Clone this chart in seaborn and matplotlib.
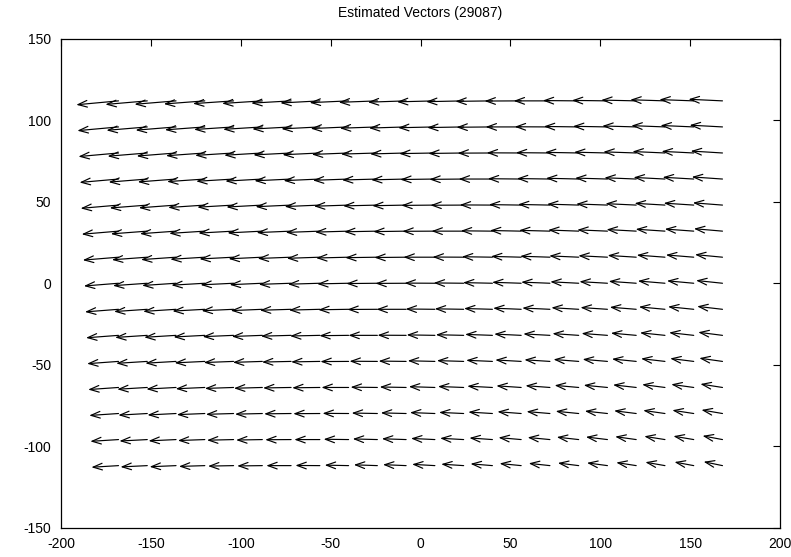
import numpy as np
import matplotlib
matplotlib.use("Agg")
import matplotlib.pyplot as plt
import seaborn as sns

# grid of vector tails
x_tails = [-168, -152, -136, -120, -104, -88, -72, -56, -40, -24, -8,
           8, 24, 40, 56, 72, 88, 104, 120, 136, 152, 168]
y_tails = [112, 96, 80, 64, 48, 32, 16, 0, -16, -32, -48, -64, -80, -96, -112]

# horizontal components (one row per y_tails entry)
u_rows = [
    [-23.5, -23.3, -23.1, -22.8, -22.6, -22.4, -22.2, -22.0, -21.7, -21.5, -21.3, -21.1, -20.9, -20.6, -20.4, -20.2, -20.0, -19.8, -19.5, -19.3, -19.1, -18.9],
    [-22.9, -22.7, -22.5, -22.2, -22.0, -21.8, -21.6, -21.4, -21.1, -20.9, -20.7, -20.5, -20.3, -20.0, -19.8, -19.6, -19.4, -19.2, -18.9, -18.7, -18.5, -18.3],
    [-22.3, -22.1, -21.9, -21.6, -21.4, -21.2, -21.0, -20.8, -20.5, -20.3, -20.1, -19.9, -19.7, -19.4, -19.2, -19.0, -18.8, -18.6, -18.3, -18.1, -17.9, -17.7],
    [-21.7, -21.5, -21.3, -21.0, -20.8, -20.6, -20.4, -20.2, -19.9, -19.7, -19.5, -19.3, -19.1, -18.8, -18.6, -18.4, -18.2, -18.0, -17.7, -17.5, -17.3, -17.1],
    [-21.1, -20.9, -20.7, -20.4, -20.2, -20.0, -19.8, -19.6, -19.3, -19.1, -18.9, -18.7, -18.5, -18.2, -18.0, -17.8, -17.6, -17.4, -17.1, -16.9, -16.7, -16.5],
    [-20.5, -20.3, -20.1, -19.8, -19.6, -19.4, -19.2, -19.0, -18.7, -18.5, -18.3, -18.1, -17.9, -17.6, -17.4, -17.2, -17.0, -16.8, -16.5, -16.3, -16.1, -15.9],
    [-19.9, -19.7, -19.5, -19.2, -19.0, -18.8, -18.6, -18.4, -18.1, -17.9, -17.7, -17.5, -17.3, -17.0, -16.8, -16.6, -16.4, -16.2, -15.9, -15.7, -15.5, -15.3],
    [-19.3, -19.1, -18.9, -18.6, -18.4, -18.2, -18.0, -17.8, -17.5, -17.3, -17.1, -16.9, -16.7, -16.4, -16.2, -16.0, -15.8, -15.6, -15.3, -15.1, -14.9, -14.7],
    [-18.7, -18.5, -18.3, -18.0, -17.8, -17.6, -17.4, -17.2, -16.9, -16.7, -16.5, -16.3, -16.1, -15.8, -15.6, -15.4, -15.2, -15.0, -14.7, -14.5, -14.3, -14.1],
    [-18.1, -17.9, -17.7, -17.4, -17.2, -17.0, -16.8, -16.6, -16.3, -16.1, -15.9, -15.7, -15.5, -15.2, -15.0, -14.8, -14.6, -14.4, -14.1, -13.9, -13.7, -13.5],
    [-17.5, -17.3, -17.1, -16.8, -16.6, -16.4, -16.2, -16.0, -15.7, -15.5, -15.3, -15.1, -14.9, -14.6, -14.4, -14.2, -14.0, -13.8, -13.5, -13.3, -13.1, -12.9],
    [-16.9, -16.7, -16.5, -16.2, -16.0, -15.8, -15.6, -15.4, -15.1, -14.9, -14.7, -14.5, -14.3, -14.0, -13.8, -13.6, -13.4, -13.2, -12.9, -12.7, -12.5, -12.3],
    [-16.3, -16.1, -15.9, -15.6, -15.4, -15.2, -15.0, -14.8, -14.5, -14.3, -14.1, -13.9, -13.7, -13.4, -13.2, -13.0, -12.8, -12.6, -12.3, -12.1, -11.9, -11.7],
    [-15.7, -15.5, -15.3, -15.0, -14.8, -14.6, -14.4, -14.2, -13.9, -13.7, -13.5, -13.3, -13.1, -12.8, -12.6, -12.4, -12.2, -12.0, -11.7, -11.5, -11.3, -11.1],
    [-15.1, -14.9, -14.7, -14.4, -14.2, -14.0, -13.8, -13.6, -13.3, -13.1, -12.9, -12.7, -12.5, -12.2, -12.0, -11.8, -11.6, -11.4, -11.1, -10.9, -10.7, -10.5],
]

# vertical components
v_rows = [
    [-2.4, -2.2, -2.1, -1.9, -1.7, -1.6, -1.4, -1.3, -1.1, -0.9, -0.8, -0.6, -0.5, -0.3, -0.1, 0.0, 0.2, 0.3, 0.5, 0.7, 0.8, 1.0],
    [-2.3, -2.1, -2.0, -1.8, -1.6, -1.5, -1.3, -1.2, -1.0, -0.8, -0.7, -0.5, -0.4, -0.2, 0.0, 0.1, 0.3, 0.4, 0.6, 0.8, 0.9, 1.1],
    [-2.2, -2.0, -1.9, -1.7, -1.5, -1.4, -1.2, -1.1, -0.9, -0.7, -0.6, -0.4, -0.3, -0.1, 0.1, 0.2, 0.4, 0.5, 0.7, 0.9, 1.0, 1.2],
    [-2.1, -1.9, -1.8, -1.6, -1.4, -1.3, -1.1, -1.0, -0.8, -0.6, -0.5, -0.3, -0.2, 0.0, 0.2, 0.3, 0.5, 0.6, 0.8, 1.0, 1.1, 1.3],
    [-2.0, -1.8, -1.7, -1.5, -1.3, -1.2, -1.0, -0.9, -0.7, -0.5, -0.4, -0.2, -0.1, 0.1, 0.3, 0.4, 0.6, 0.7, 0.9, 1.1, 1.2, 1.4],
    [-1.9, -1.7, -1.6, -1.4, -1.2, -1.1, -0.9, -0.8, -0.6, -0.4, -0.3, -0.1, 0.0, 0.2, 0.4, 0.5, 0.7, 0.8, 1.0, 1.2, 1.3, 1.5],
    [-1.8, -1.6, -1.5, -1.3, -1.1, -1.0, -0.8, -0.7, -0.5, -0.3, -0.2, 0.0, 0.1, 0.3, 0.5, 0.6, 0.8, 0.9, 1.1, 1.3, 1.4, 1.6],
    [-1.7, -1.5, -1.4, -1.2, -1.0, -0.9, -0.7, -0.6, -0.4, -0.2, -0.1, 0.1, 0.2, 0.4, 0.6, 0.7, 0.9, 1.0, 1.2, 1.4, 1.5, 1.7],
    [-1.6, -1.4, -1.3, -1.1, -0.9, -0.8, -0.6, -0.5, -0.3, -0.1, 0.0, 0.2, 0.3, 0.5, 0.7, 0.8, 1.0, 1.1, 1.3, 1.5, 1.6, 1.8],
    [-1.5, -1.3, -1.2, -1.0, -0.8, -0.7, -0.5, -0.4, -0.2, 0.0, 0.1, 0.3, 0.4, 0.6, 0.8, 0.9, 1.1, 1.2, 1.4, 1.6, 1.7, 1.9],
    [-1.4, -1.2, -1.1, -0.9, -0.7, -0.6, -0.4, -0.3, -0.1, 0.1, 0.2, 0.4, 0.5, 0.7, 0.9, 1.0, 1.2, 1.3, 1.5, 1.7, 1.8, 2.0],
    [-1.3, -1.1, -1.0, -0.8, -0.6, -0.5, -0.3, -0.2, 0.0, 0.2, 0.3, 0.5, 0.6, 0.8, 1.0, 1.1, 1.3, 1.4, 1.6, 1.8, 1.9, 2.1],
    [-1.2, -1.0, -0.9, -0.7, -0.5, -0.4, -0.2, -0.1, 0.1, 0.3, 0.4, 0.6, 0.7, 0.9, 1.1, 1.2, 1.4, 1.5, 1.7, 1.9, 2.0, 2.2],
    [-1.1, -0.9, -0.8, -0.6, -0.4, -0.3, -0.1, 0.0, 0.2, 0.4, 0.5, 0.7, 0.8, 1.0, 1.2, 1.3, 1.5, 1.6, 1.8, 2.0, 2.1, 2.3],
    [-1.0, -0.8, -0.7, -0.5, -0.3, -0.2, 0.0, 0.1, 0.3, 0.5, 0.6, 0.8, 0.9, 1.1, 1.3, 1.4, 1.6, 1.7, 1.9, 2.1, 2.2, 2.4],
]

x_ticks = [-200, -150, -100, -50, 0, 50, 100, 150, 200]
y_ticks = [-150, -100, -50, 0, 50, 100, 150]
title = "Estimated Vectors (29087)"

sns.set_theme(style="white")
plt.rcParams["font.family"] = ["Liberation Sans", "DejaVu Sans"]
plt.rcParams["axes.unicode_minus"] = False

fig = plt.figure(figsize=(7.91, 5.57), dpi=100)
ax = fig.add_axes([61 / 791, 29.5 / 557, 719 / 791, 488.5 / 557])

for j, y0 in enumerate(y_tails):
    for i, x0 in enumerate(x_tails):
        ax.annotate("", xy=(x0 + u_rows[j][i], y0 + v_rows[j][i]), xytext=(x0, y0),
                    arrowprops=dict(arrowstyle="->,head_length=0.55,head_width=0.2",
                                    color="black", lw=0.85, shrinkA=0, shrinkB=0))

ax.set_xlim(-200, 200)
ax.set_ylim(-150, 150)
ax.set_xticks(x_ticks)
ax.set_yticks(y_ticks)
ax.tick_params(direction="in", length=5, width=0.8, colors="black",
               top=True, right=True, labelsize=10, pad=7)
ax.tick_params(axis="x", labeltop=False)
ax.tick_params(axis="y", labelright=False)
for s in ax.spines.values():
    s.set_color("black")
    s.set_linewidth(0.9)
ax.set_title(title, fontsize=10, pad=16, color="black")

fig.savefig("out.png", dpi=100)
